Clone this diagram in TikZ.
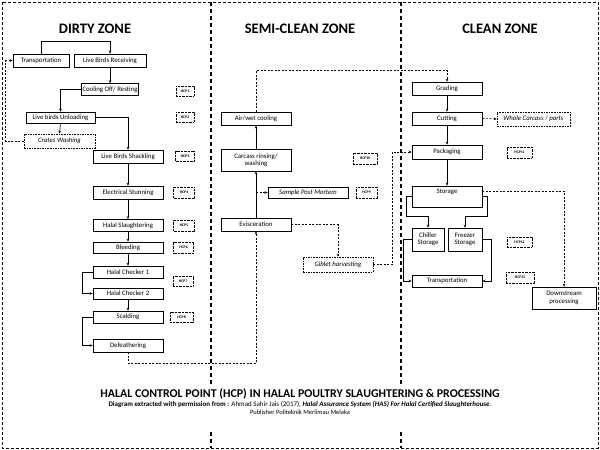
\documentclass[tikz,border=0pt]{standalone}
\usepackage{fontspec}
\setmainfont{Carlito}
\usetikzlibrary{arrows.meta}
\newcommand{\nf}{\fontsize{6.8}{7.4}\selectfont}
\tikzset{
  box/.style={draw, line width=0.6pt, inner sep=0pt, align=center, font=\nf},
  dbox/.style={box, dash pattern=on 1.6pt off 1pt, font=\nf\itshape},
  hcp/.style={draw, line width=0.5pt, dash pattern=on 0.8pt off 0.6pt, inner sep=0pt,
     font=\fontsize{3.8}{4}\selectfont\bfseries},
  arr/.style={-{Stealth[length=3pt,width=2.6pt]}, line width=0.6pt},
  darr/.style={arr, dash pattern=on 2pt off 1.5pt},
  zone/.style={font=\fontsize{14.5}{16}\selectfont\bfseries},
  frame/.style={line width=0.7pt, dash pattern=on 3pt off 2pt},
  divider/.style={line width=1.3pt, dash pattern=on 4pt off 3pt}
}
\begin{document}
\begin{tikzpicture}[x=1pt,y=-1pt]
\useasboundingbox (0,0) rectangle (600,450);
% frame and dividers
\draw[frame] (2,2) rectangle (598,448);
\draw[divider] (211,2) -- (211,386);
\draw[divider] (211,432) -- (211,448);
\draw[divider] (401,2) -- (401,386);
\draw[divider] (401,432) -- (401,448);
% zone titles
\node[zone] (zd) at (95,29) {DIRTY ZONE};
\node[zone] (zs) at (300,29) {SEMI-CLEAN ZONE};
\node[zone] (zc) at (500,29) {CLEAN ZONE};
% dirty zone
\node[box, minimum width=56pt, minimum height=13pt] (transport) at (41,60.5) {Transportation};
\node[box, minimum width=72pt, minimum height=13pt] (recv) at (110,60.5) {Live Birds Receiving};
\node[box, minimum width=57pt, minimum height=12pt] (cool) at (110,89.5) {Cooling Off/ Resting};
\node[box, minimum width=69pt, minimum height=11pt] (unload) at (60.5,117.5) {Live birds Unloading};
\node[dbox, minimum width=71pt, minimum height=14pt] (crates) at (59.5,141) {Crates Washing};
\node[box, minimum width=70pt, minimum height=13pt] (shack) at (128,156.5) {Live Birds Shackling};
\node[box, minimum width=70pt, minimum height=13pt] (stun) at (128,192.5) {Electrical Stunning};
\node[box, minimum width=70pt, minimum height=12pt] (slaughter) at (128,225.5) {Halal Slaughtering};
\node[box, minimum width=70pt, minimum height=11pt] (bleed) at (128,247.5) {Bleeding};
\node[box, minimum width=70pt, minimum height=12pt] (hc1) at (128,272) {Halal Checker 1};
\node[box, minimum width=70pt, minimum height=11pt] (hc2) at (128,293.5) {Halal Checker 2};
\node[box, minimum width=70pt, minimum height=12pt] (scald) at (128,317) {Scalding};
\node[box, minimum width=70pt, minimum height=13pt] (defeather) at (128,345.5) {Defeathering};
\node[hcp, minimum width=18pt, minimum height=10pt] (hcp1) at (185,91) {HCP1};
\node[hcp, minimum width=18pt, minimum height=10pt] (hcp2) at (185,117) {HCP2};
\node[hcp, minimum width=19pt, minimum height=10pt] (hcp3) at (185,156) {HCP3};
\node[hcp, minimum width=21pt, minimum height=11pt] (hcp4) at (184,192.5) {HCP4};
\node[hcp, minimum width=21pt, minimum height=11pt] (hcp5) at (184,225.5) {HCP5};
\node[hcp, minimum width=20pt, minimum height=11pt] (hcp6) at (183.5,247.5) {HCP6};
\node[hcp, minimum width=20pt, minimum height=10pt] (hcp7) at (183,281.5) {HCP7};
\node[hcp, minimum width=23pt, minimum height=10pt] (hcp8) at (181.5,317) {HCP8};
% semi-clean zone
\node[box, minimum width=70pt, minimum height=13pt] (aircool) at (256,118.5) {Air/wet cooling};
\node[box, minimum width=70pt, minimum height=22pt] (rinse) at (256,160) {Carcass rinsing/\\washing};
\node[box, minimum width=80pt, minimum height=11pt, font=\nf\itshape] (sample) at (308,192.5) {Sample Post Mortem};
\node[box, minimum width=70pt, minimum height=13pt] (evis) at (256,224.5) {Evisceration};
\node[dbox, minimum width=70pt, minimum height=15pt] (giblet) at (338,264.5) {Giblet harvesting};
\node[hcp, minimum width=24pt, minimum height=11pt] (hcp10) at (365,158.5) {HCP10};
\node[hcp, minimum width=21pt, minimum height=11pt] (hcp9) at (366.5,192.5) {HCP9};
% clean zone
\node[box, minimum width=70pt, minimum height=13pt] (grading) at (447,88.5) {Grading};
\node[box, minimum width=70pt, minimum height=13pt] (cutting) at (447,118.5) {Cutting};
\node[dbox, minimum width=73pt, minimum height=14pt] (whole) at (533.5,119) {Whole Carcass / parts};
\node[box, minimum width=70pt, minimum height=14pt] (pack) at (447,152) {Packaging};
\node[box, minimum width=70pt, minimum height=21pt] (storage) at (447,196.5) {};
\node[font=\nf, inner sep=0pt] (storaget) at (447,192) {Storage};
\node[box, minimum width=32pt, minimum height=23pt] (chiller) at (428,239.5) {Chiller\\Storage};
\node[box, minimum width=34pt, minimum height=23pt] (freezer) at (465,239.5) {Freezer\\Storage};
\node[box, minimum width=70pt, minimum height=12pt] (ctrans) at (447,281) {Transportation};
\node[box, minimum width=64pt, minimum height=22pt] (down) at (564,298) {Downstream\\processing};
\node[hcp, minimum width=25pt, minimum height=11pt] (hcp11) at (519.5,152.5) {HCP11};
\node[hcp, minimum width=25pt, minimum height=10pt] (hcp12) at (519.5,242) {HCP12};
\node[hcp, minimum width=28pt, minimum height=11pt] (hcp13) at (520,277.5) {HCP13};
% title
\node[font=\fontsize{11.9}{13}\selectfont\bfseries] (title) at (300,394) {HALAL CONTROL POINT (HCP) IN HALAL POULTRY SLAUGHTERING \& PROCESSING};
\node[font=\fontsize{7}{8}\selectfont] (cite) at (300,404) {\textbf{Diagram extracted with permission from :} Ahmad Sahir Jais (2017), \textbf{\textit{Halal Assurance System (HAS) For Halal Certified Slaughterhouse}}.};
\node[font=\fontsize{6.5}{7}\selectfont] (pub) at (300,412.5) {Publisher Politeknik Merlimau Melaka};
% connectors dirty zone
\draw[arr] (transport.north) -- ++(0,-12) -| (recv.north);
\draw[arr] (recv.south) -- (cool.north);
\draw[arr] (cool.west) -| (unload.north);
\draw[arr] (unload.east) -| (shack.north);
\draw[arr] (unload.south) -- (crates.north);
\draw[darr] (crates.west) -- ++(-18,0) |- (transport.west);
\draw[arr] (shack) -- (stun);
\draw[arr] (stun) -- (slaughter);
\draw[arr] (slaughter) -- (bleed);
\draw[arr] (bleed) -- (hc1);
\draw[arr] (hc1.west) -- ++(-10,0) |- (hc2.west);
\draw[arr] (hc2) -- (scald);
\draw[arr] (scald.west) -- ++(-10,0) |- (defeather.west);
\draw[darr] (defeather.south) -- ++(0,11) -| (evis.south);
% semi-clean connectors
\draw[arr] (evis) -- (rinse);
\draw[arr] (rinse) -- (aircool);
\coordinate (sm) at (evis.north |- sample.west);
\draw[darr] (sm) -- (sample.west);
\draw[darr] (evis.east) -| (giblet.north);
\draw[darr] (giblet.east) -- ++(19,0) |- (pack.west);
\draw[darr] (aircool.north) -- ++(0,-41) -| (grading.north);
% clean connectors
\draw[arr] (grading) -- (cutting);
\draw[arr] (cutting) -- (pack);
\draw[arr] (pack) -- (storage);
\draw[darr] (cutting.east) -- (whole.west);
\draw[arr] (storage.west) -- ++(-5,0) -- ++(0,20) -| (chiller.north);
\draw[arr] (storage.east) -- ++(5,0) -- ++(0,20) -| (freezer.north);
\draw[arr] (chiller.west) -- ++(-8,0) |- (ctrans.west);
\draw[arr] (freezer.east) -- ++(9,0) |- (ctrans.east);
\draw[darr] ([yshift=5.5pt]storage.east) -| (down.north);
\end{tikzpicture}
\end{document}
